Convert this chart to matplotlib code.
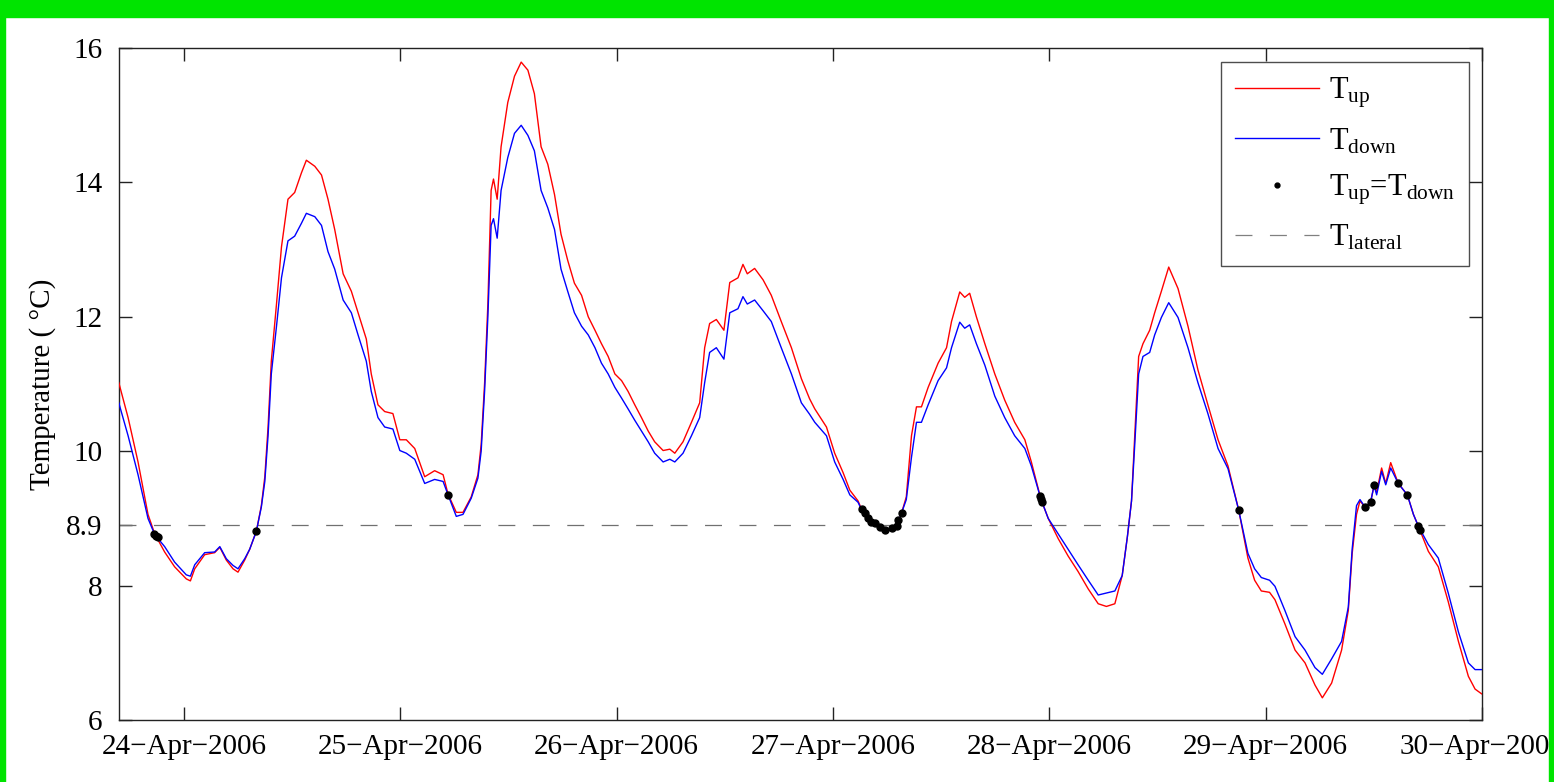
import matplotlib
matplotlib.use("Agg")
import matplotlib.pyplot as plt
from matplotlib.patches import Rectangle
from matplotlib.lines import Line2D

plt.rcParams['font.family'] = ['Liberation Serif', 'DejaVu Serif']
plt.rcParams['mathtext.fontset'] = 'custom'
plt.rcParams['mathtext.rm'] = 'Liberation Serif'
plt.rcParams['mathtext.it'] = 'Liberation Serif:italic'
plt.rcParams['mathtext.bf'] = 'Liberation Serif:bold'
plt.rcParams['lines.scale_dashes'] = False

# ---------------- data (day of April 2006, degC) ----------------
t = [23.699, 23.742, 23.788, 23.834, 23.865, 23.911, 23.957, 24.011, 24.030, 24.050,
     24.096, 24.142, 24.166, 24.196, 24.227, 24.250, 24.281, 24.304, 24.335, 24.358,
     24.374, 24.389, 24.404, 24.428, 24.451, 24.481, 24.512, 24.543, 24.566, 24.605,
     24.636, 24.666, 24.697, 24.736, 24.774, 24.805, 24.843, 24.866, 24.897, 24.928,
     24.966, 24.998, 25.028, 25.067, 25.113, 25.159, 25.198, 25.221, 25.259, 25.290,
     25.328, 25.359, 25.374, 25.390, 25.405, 25.420, 25.431, 25.448, 25.466, 25.497,
     25.528, 25.559, 25.590, 25.620, 25.651, 25.682, 25.713, 25.743, 25.774, 25.805,
     25.838, 25.869, 25.900, 25.930, 25.961, 25.992, 26.023, 26.053, 26.084, 26.115,
     26.146, 26.176, 26.215, 26.246, 26.269, 26.307, 26.346, 26.384, 26.407, 26.430,
     26.461, 26.496, 26.523, 26.561, 26.584, 26.604, 26.638, 26.677, 26.715, 26.761,
     26.808, 26.854, 26.892, 26.916, 26.970, 27.008, 27.047, 27.078, 27.116, 27.132,
     27.163, 27.194, 27.217, 27.240, 27.271, 27.294, 27.317, 27.339, 27.363, 27.386,
     27.409, 27.440, 27.486, 27.525, 27.548, 27.586, 27.609, 27.632, 27.663, 27.702,
     27.748, 27.794, 27.840, 27.887, 27.917, 27.961, 27.995, 28.041, 28.087, 28.133,
     28.180, 28.226, 28.264, 28.303, 28.337, 28.361, 28.380, 28.395, 28.413, 28.433,
     28.464, 28.487, 28.518, 28.552, 28.595, 28.641, 28.687, 28.733, 28.780, 28.826,
     28.875, 28.918, 28.949, 28.980, 29.018, 29.043, 29.089, 29.136, 29.182, 29.228,
     29.262, 29.305, 29.351, 29.382, 29.400, 29.420, 29.436, 29.459, 29.485, 29.501,
     29.513, 29.536, 29.555, 29.578, 29.613, 29.655, 29.683, 29.705, 29.752, 29.798,
     29.844, 29.891, 29.937, 29.968, 29.998]

t_up = [11.02, 10.50, 9.84, 9.06, 8.77, 8.50, 8.28, 8.10, 8.07, 8.25,
        8.46, 8.49, 8.57, 8.38, 8.25, 8.20, 8.38, 8.54, 8.81, 9.19,
        9.62, 10.36, 11.34, 12.19, 13.04, 13.75, 13.85, 14.14, 14.33, 14.24,
        14.11, 13.75, 13.30, 12.64, 12.38, 12.06, 11.67, 11.15, 10.69, 10.59,
        10.56, 10.17, 10.17, 10.04, 9.62, 9.71, 9.65, 9.36, 9.09, 9.09,
        9.32, 9.65, 10.10, 11.02, 12.19, 13.88, 14.05, 13.75, 14.53, 15.19,
        15.58, 15.79, 15.67, 15.32, 14.53, 14.27, 13.82, 13.23, 12.84, 12.50,
        12.32, 12.00, 11.80, 11.60, 11.41, 11.15, 11.05, 10.89, 10.69, 10.50,
        10.30, 10.14, 10.01, 10.03, 9.97, 10.14, 10.43, 10.72, 11.54, 11.90,
        11.96, 11.80, 12.51, 12.58, 12.78, 12.64, 12.72, 12.55, 12.32, 11.93,
        11.54, 11.08, 10.78, 10.63, 10.36, 9.97, 9.68, 9.42, 9.26, 9.14,
        9.00, 8.93, 8.87, 8.81, 8.85, 8.88, 9.08, 9.32, 10.23, 10.66,
        10.66, 10.95, 11.31, 11.54, 11.93, 12.37, 12.29, 12.35, 12.00, 11.60,
        11.15, 10.76, 10.43, 10.17, 9.84, 9.29, 9.00, 8.70, 8.44, 8.21,
        7.95, 7.73, 7.69, 7.73, 8.15, 8.73, 9.26, 10.23, 11.41, 11.60,
        11.80, 12.06, 12.38, 12.74, 12.42, 11.86, 11.21, 10.69, 10.17, 9.78,
        9.13, 8.41, 8.08, 7.92, 7.90, 7.79, 7.43, 7.04, 6.85, 6.52,
        6.33, 6.55, 7.04, 7.63, 8.48, 9.06, 9.26, 9.17, 9.24, 9.49,
        9.39, 9.75, 9.52, 9.83, 9.52, 9.35, 9.06, 8.89, 8.51, 8.28,
        7.76, 7.17, 6.65, 6.46, 6.39]

t_down = [10.72, 10.23, 9.65, 9.00, 8.76, 8.58, 8.35, 8.16, 8.14, 8.31,
          8.49, 8.50, 8.58, 8.40, 8.30, 8.25, 8.40, 8.54, 8.81, 9.17,
          9.55, 10.23, 11.15, 11.86, 12.58, 13.13, 13.20, 13.39, 13.54, 13.49,
          13.36, 12.97, 12.71, 12.25, 12.06, 11.73, 11.34, 10.89, 10.50, 10.36,
          10.33, 10.01, 9.97, 9.88, 9.52, 9.58, 9.55, 9.35, 9.03, 9.06,
          9.30, 9.60, 10.00, 10.90, 12.00, 13.36, 13.46, 13.17, 13.88, 14.37,
          14.73, 14.85, 14.70, 14.47, 13.88, 13.62, 13.30, 12.71, 12.38, 12.06,
          11.86, 11.73, 11.54, 11.31, 11.15, 10.95, 10.79, 10.63, 10.46, 10.30,
          10.14, 9.97, 9.84, 9.88, 9.84, 9.97, 10.23, 10.50, 11.02, 11.47,
          11.54, 11.37, 12.06, 12.12, 12.30, 12.19, 12.25, 12.09, 11.93, 11.54,
          11.15, 10.72, 10.55, 10.43, 10.23, 9.84, 9.58, 9.35, 9.24, 9.13,
          9.00, 8.93, 8.87, 8.82, 8.85, 8.88, 9.08, 9.28, 9.91, 10.43,
          10.43, 10.69, 11.05, 11.24, 11.54, 11.92, 11.83, 11.88, 11.60, 11.28,
          10.82, 10.50, 10.23, 10.04, 9.78, 9.29, 9.00, 8.77, 8.54, 8.31,
          8.08, 7.86, 7.89, 7.92, 8.15, 8.73, 9.26, 10.10, 11.15, 11.41,
          11.47, 11.73, 11.99, 12.21, 11.99, 11.54, 11.02, 10.56, 10.04, 9.74,
          9.13, 8.48, 8.25, 8.12, 8.08, 7.99, 7.63, 7.24, 7.04, 6.78,
          6.68, 6.91, 7.17, 7.68, 8.55, 9.19, 9.28, 9.17, 9.24, 9.49,
          9.35, 9.70, 9.50, 9.75, 9.52, 9.35, 9.06, 8.89, 8.61, 8.41,
          7.89, 7.31, 6.85, 6.75, 6.75]

eq_t = [23.862, 23.870, 23.878, 24.335, 25.221,
        27.132, 27.147, 27.163, 27.178, 27.194, 27.217, 27.240, 27.271, 27.294, 27.301, 27.317,
        27.955, 27.961, 27.965, 28.875,
        29.459, 29.485, 29.501, 29.613, 29.655, 29.705, 29.713]
eq_v = [8.77, 8.74, 8.72, 8.81, 9.35,
        9.14, 9.08, 9.00, 8.95, 8.93, 8.87, 8.82, 8.85, 8.88, 8.98, 9.08,
        9.33, 9.29, 9.25, 9.13,
        9.17, 9.24, 9.49, 9.52, 9.35, 8.89, 8.82]

t_lateral = 8.9

xtick_days = [24, 25, 26, 27, 28, 29, 30]
xtick_labels = ['24\u2212Apr\u22122006', '25\u2212Apr\u22122006', '26\u2212Apr\u22122006',
                '27\u2212Apr\u22122006', '28\u2212Apr\u22122006', '29\u2212Apr\u22122006',
                '30\u2212Apr\u22122006']
ytick_vals = [6, 8, 8.9, 10, 12, 14, 16]
ytick_labels = ['6', '8', '8.9', '10', '12', '14', '16']

legend_labels = [r'T$_{\mathrm{up}}$', r'T$_{\mathrm{down}}$',
                 r'T$_{\mathrm{up}}$=T$_{\mathrm{down}}$', r'T$_{\mathrm{lateral}}$']

# ---------------- figure ----------------
W, H = 1554, 782
fig = plt.figure(figsize=(W / 100, H / 100), dpi=100, facecolor='white')
ax = fig.add_axes([119 / W, 1 - 720 / H, (1482 - 119) / W, (720 - 48) / H])

ax.plot(t, t_up, color='#ff0000', lw=1.0, zorder=3)
ax.plot(t, t_down, color='#0000ff', lw=1.0, zorder=3)
ax.plot(eq_t, eq_v, linestyle='none', marker='o', ms=5, color='black', zorder=4)
ax.axhline(t_lateral, color='#707070', lw=0.9, dashes=(12.2, 12.6), zorder=2)

ax.set_xlim(23.70, 30.0)
ax.set_ylim(6, 16)
ax.set_xticks(xtick_days)
ax.set_xticklabels(xtick_labels)
ax.set_yticks(ytick_vals)
ax.set_yticklabels(ytick_labels)
ax.tick_params(direction='in', length=9.4, width=1.0, color='#222222',
               top=True, right=True, labelsize=21)
ax.tick_params(axis='x', pad=10)
ax.tick_params(axis='y', pad=12)
for s in ax.spines.values():
    s.set_color('#222222')
    s.set_linewidth(1.0)
ax.set_ylabel('Temperature ( \u00b0C)', fontsize=21, labelpad=7)

handles = [
    Line2D([], [], color='#ff0000', lw=1.0),
    Line2D([], [], color='#0000ff', lw=1.0),
    Line2D([], [], linestyle='none', marker='o', ms=3.5, color='black'),
    Line2D([], [], color='#808080', lw=0.9, dashes=(12.2, 12.6)),
]
leg = ax.legend(handles, legend_labels, loc='upper right',
                bbox_to_anchor=(1469 / W, 1 - 62 / H), bbox_transform=fig.transFigure,
                borderaxespad=0, fontsize=22, frameon=True, fancybox=False,
                edgecolor='#222222', handlelength=2.75, handletextpad=0.33,
                labelspacing=0.53, borderpad=0.45)
leg.get_frame().set_linewidth(1.0)

# green frame around the picture
green = '#00e400'
fig.add_artist(Rectangle((0, 1 - 17 / H), 1, 17 / H, transform=fig.transFigure,
                         color=green, zorder=10))
fig.add_artist(Rectangle((0, 0), 5 / W, 1, transform=fig.transFigure,
                         color=green, zorder=10))
fig.add_artist(Rectangle((1 - 5 / W, 0), 5 / W, 1, transform=fig.transFigure,
                         color=green, zorder=10))

fig.savefig('out.png', dpi=100, facecolor='white')
